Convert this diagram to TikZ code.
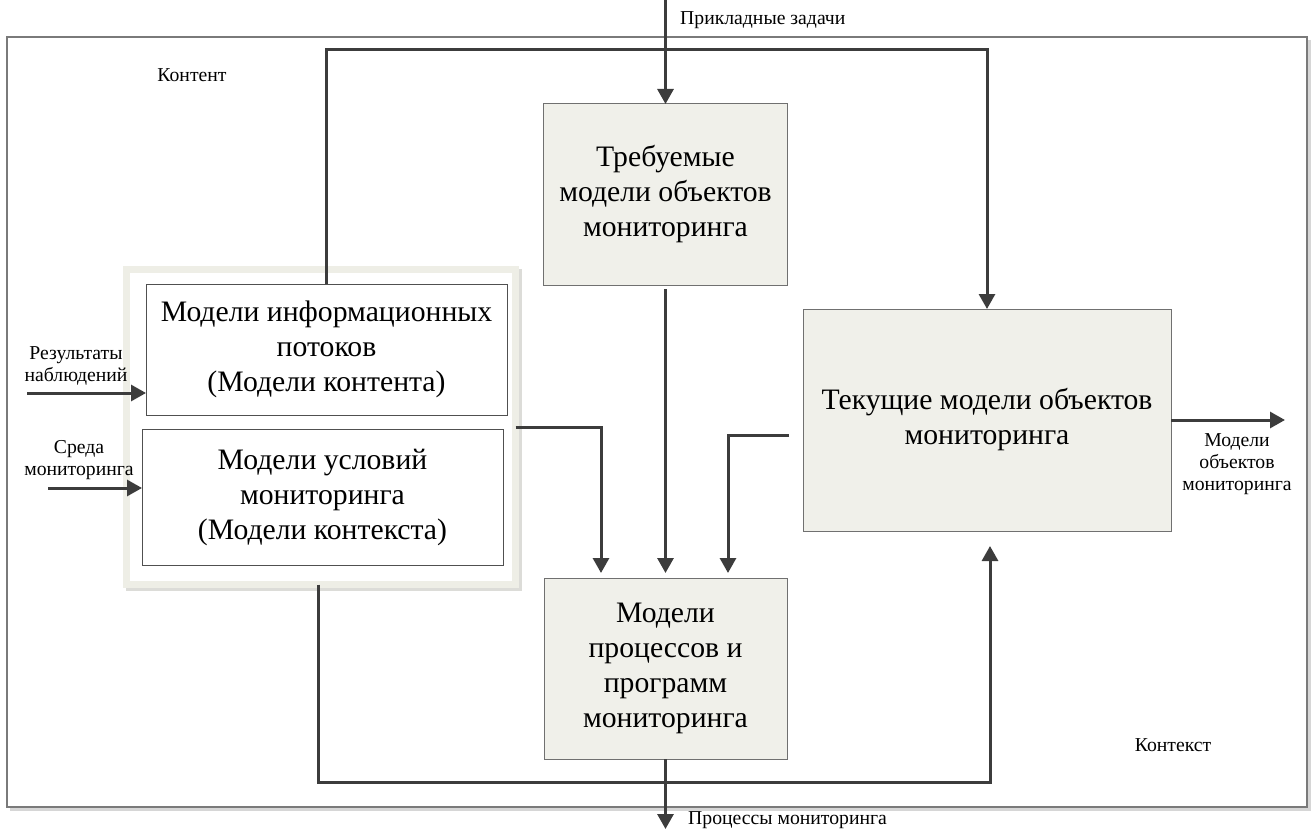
\documentclass[tikz,border=0pt]{standalone}
\usepackage{fontspec}
\setmainfont{Liberation Serif}
\usetikzlibrary{arrows.meta,calc}

\definecolor{linecol}{HTML}{3C3C3C}
\definecolor{boxfill}{HTML}{F0F0EA}
\definecolor{boxline}{HTML}{707070}
\definecolor{innerline}{HTML}{505050}
\definecolor{bandcol}{HTML}{EEEEE6}
\definecolor{bandshade}{HTML}{DCDCD8}
\definecolor{framecol}{HTML}{7A7A7A}
\definecolor{frameshade}{HTML}{D6D6D6}

\tikzset{
  flow/.style={draw=linecol, line width=3pt, -{Triangle[length=15pt,width=16pt]}},
  modelbox/.style={draw=boxline, fill=boxfill, line width=1pt, align=center,
    inner sep=0pt, outer sep=0pt, font=\fontsize{29.7}{35}\selectfont},
  groupbox/.style={draw=innerline, fill=white, line width=1pt, align=center,
    inner sep=0pt, outer sep=0pt, font=\fontsize{29.7}{35}\selectfont},
  lbl/.style={font=\fontsize{19.7}{22}\selectfont, align=center, inner sep=0pt, text=black}
}

\begin{document}
\begin{tikzpicture}[x=1pt,y=-1pt]
\useasboundingbox (0,0) rectangle (1312,832);

% outer frame with its shadow
\draw[frameshade, line width=2.5pt] (1309.5,40) -- (1309.5,809.5) -- (10,809.5);
\draw[framecol, line width=1.5pt] (7,37) rectangle (1307,807);

% grouping frame around the two left boxes
\fill[bandshade] (126,269) rectangle (522,591);
\node[draw=bandcol, line width=7pt, fill=white, inner sep=0pt, outer sep=0pt,
      minimum width=389pt, minimum height=315pt] (grp) at (321,427) {};

\node[groupbox, minimum width=361pt, minimum height=131pt] (info) at (326.5,349.5)
  {Модели информационных\\потоков\\(Модели контента)};
\node[groupbox, minimum width=361pt, minimum height=136pt] (cond) at (322.5,497)
  {Модели условий\\мониторинга\\(Модели контекста)};

% model boxes
\node[modelbox, minimum width=244pt, minimum height=181pt] (req) at (665.5,194.5)
  {Требуемые\\модели объектов\\мониторинга};
\node[modelbox, minimum width=243pt, minimum height=181pt] (proc) at (665.5,668.5)
  {Модели\\процессов и\\программ\\мониторинга};
\node[modelbox, minimum width=368pt, minimum height=222pt] (cur) at (987,420)
  {Текущие модели объектов\\мониторинга};

% free ends and turning levels
\coordinate (inT)  at (665.5,0);
\coordinate (ctop) at (0,50);
\coordinate (cbot) at (0,782);
\coordinate (outR) at (1285,420);
\coordinate (outD) at (665.5,829);
\coordinate (inA)  at (27,393);
\coordinate (inB)  at (48,488);
\coordinate (gbot) at ($(grp.south)+(-3,0)$);
\coordinate (cup)  at ($(cur.south)+(3,0)$);

% connectors
\draw[flow] (inT) -- (req.north);
\draw[flow] (info.north) -- (info.north |- ctop) -| (cur.north);
\draw[flow, shorten <=4pt, shorten >=5pt] (req.south) -- (req.south |- proc.north);
\draw[flow, shorten >=5pt] (grp.east) -| ($(proc.north west)+(57,0)$);
\draw[flow, shorten >=5pt] ($(cur.west)+(-14,15)$) -| ($(proc.north west)+(184,0)$);
\draw[flow, shorten >=15pt] (gbot) -- (gbot |- cbot) -| (cup);
\draw[flow] (cur.east) -- (outR);
\draw[flow] (proc.south) -- (outD);
\draw[flow] (inA) -- (inA -| info.west);
\draw[flow] (inB) -- (inB -| cond.west);

% labels
\node[lbl, anchor=west] (lt) at (680,20) {Прикладные задачи};
\node[lbl] (lcontent) at (192,75) {Контент};
\node[lbl] (lcontext) at (1173,745) {Контекст};
\node[lbl] (lres) at (76,366) {Результаты\\наблюдений};
\node[lbl] (lenv) at (79,460) {Среда\\мониторинга};
\node[lbl] (lout) at (1237,464) {Модели\\объектов\\мониторинга};
\node[lbl, anchor=west] (lproc) at (688,820) {Процессы мониторинга};
\end{tikzpicture}
\end{document}
